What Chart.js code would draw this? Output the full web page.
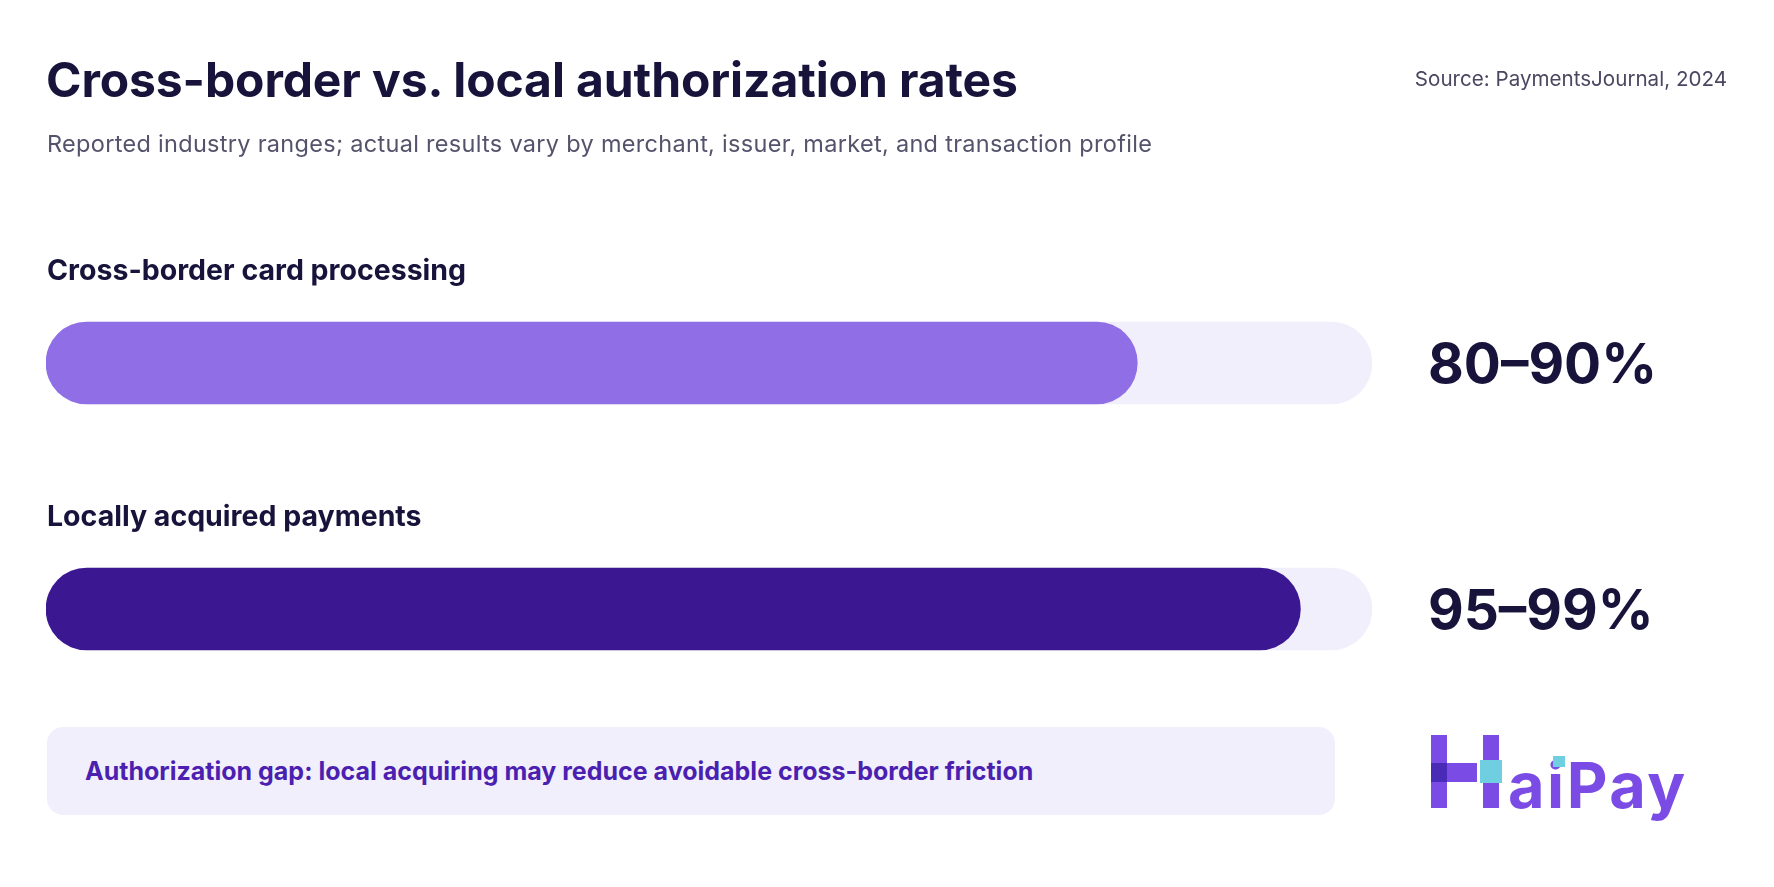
<!DOCTYPE html>
<html>
<head>
<meta charset="utf-8">
<script src="https://cdn.jsdelivr.net/npm/chart.js@4.4.1/dist/chart.umd.min.js"></script>
<style>
    body { margin: 0; background: #ffffff; font-family: Inter, "Noto Sans", sans-serif; }
    #wrap { position: relative; width: 1774px; height: 887px; overflow: hidden; }
    #chart { position: absolute; left: 0; top: 0; }
    .txt { position: absolute; line-height: 1; white-space: nowrap; }
    #title { left: 46px; top: 56px; font-size: 48px; font-weight: 700; color: #17133a; letter-spacing: -0.1px; }
    #subtitle { left: 47px; top: 132px; font-size: 23.5px; font-weight: 400; color: #55536b; letter-spacing: 0.3px; }
    #source { right: 47px; top: 69px; font-size: 20.6px; font-weight: 400; color: #4a4860; }
    #note { position: absolute; left: 47px; top: 727px; width: 1288px; height: 88px; border-radius: 16px;
        background: #f2effc; display: flex; align-items: center; box-sizing: border-box; padding-left: 38px; }
    #note span { font-size: 25px; font-weight: 700; color: #4b1fb0; line-height: 1; }
    .logo-part { position: absolute; }
    #logo-text { left: 1508px; top: 754px; font-size: 63px; font-weight: 700; color: #7b4be6; letter-spacing: 2.5px; }
</style>
</head>
<body>
<div id="wrap">
    <canvas id="chart" width="1774" height="887"></canvas>
    <div class="txt" id="title">Cross-border vs. local authorization rates</div>
    <div class="txt" id="subtitle">Reported industry ranges; actual results vary by merchant, issuer, market, and transaction profile</div>
    <div class="txt" id="source">Source: PaymentsJournal, 2024</div>
    <div id="note"><span>Authorization gap: local acquiring may reduce avoidable cross-border friction</span></div>

    <div class="logo-part" style="left:1431px;top:735px;width:16px;height:73px;background:#7b4be6;"></div>
    <div class="logo-part" style="left:1431px;top:763px;width:46px;height:19px;background:#7b4be6;"></div>
    <div class="logo-part" style="left:1431px;top:763px;width:16px;height:19px;background:#4a2bb8;"></div>
    <div class="logo-part" style="left:1483px;top:735px;width:16px;height:73px;background:#7b4be6;"></div>
    <div class="txt" id="logo-text">aiPay</div>
    <div class="logo-part" style="left:1480px;top:760px;width:22px;height:23px;background:#6fcfe0;"></div>
    <div class="logo-part" style="left:1553px;top:756px;width:12px;height:11px;background:#6fcfe0;"></div>
</div>

<script>
    const categories = ['Cross-border card processing', 'Locally acquired payments'];
    const rangeLabels = ['80–90%', '95–99%'];
    const fillValues = [82.3, 94.6];
    const trackValues = [100, 100];
    const fillColors = ['#8f6ee6', '#3b1791'];

    const barLabels = {
        id: 'barLabels',
        afterDatasetsDraw(chart) {
            const ctx = chart.ctx;
            const meta = chart.getDatasetMeta(0);
            const area = chart.chartArea;
            ctx.save();
            meta.data.forEach((bar, i) => {
                const top = bar.y - bar.height / 2;
                ctx.fillStyle = '#17133a';
                ctx.textAlign = 'left';
                ctx.textBaseline = 'alphabetic';
                ctx.font = '700 28.5px Inter';
                ctx.fillText(categories[i], area.left + 1, top - 42);

                ctx.font = '700 55px Inter';
                ctx.fillText(rangeLabels[i], 1428, bar.y + 20);
            });
            ctx.restore();
        }
    };

    new Chart(document.getElementById('chart'), {
        type: 'bar',
        data: {
            labels: categories,
            datasets: [
                {
                    data: fillValues,
                    backgroundColor: fillColors,
                    grouped: false,
                    barThickness: 82,
                    borderRadius: 41,
                    borderSkipped: false
                },
                {
                    data: trackValues,
                    backgroundColor: '#f2effc',
                    grouped: false,
                    barThickness: 82,
                    borderRadius: 41,
                    borderSkipped: false
                }
            ]
        },
        options: {
            indexAxis: 'y',
            responsive: false,
            animation: false,
            layout: {
                padding: {left: 46, right: 402, top: 240, bottom: 155}
            },
            scales: {
                x: {display: false, min: 0, max: 100},
                y: {display: false}
            },
            plugins: {
                legend: {display: false},
                tooltip: {enabled: false}
            }
        },
        plugins: [barLabels]
    });
</script>
</body>
</html>
